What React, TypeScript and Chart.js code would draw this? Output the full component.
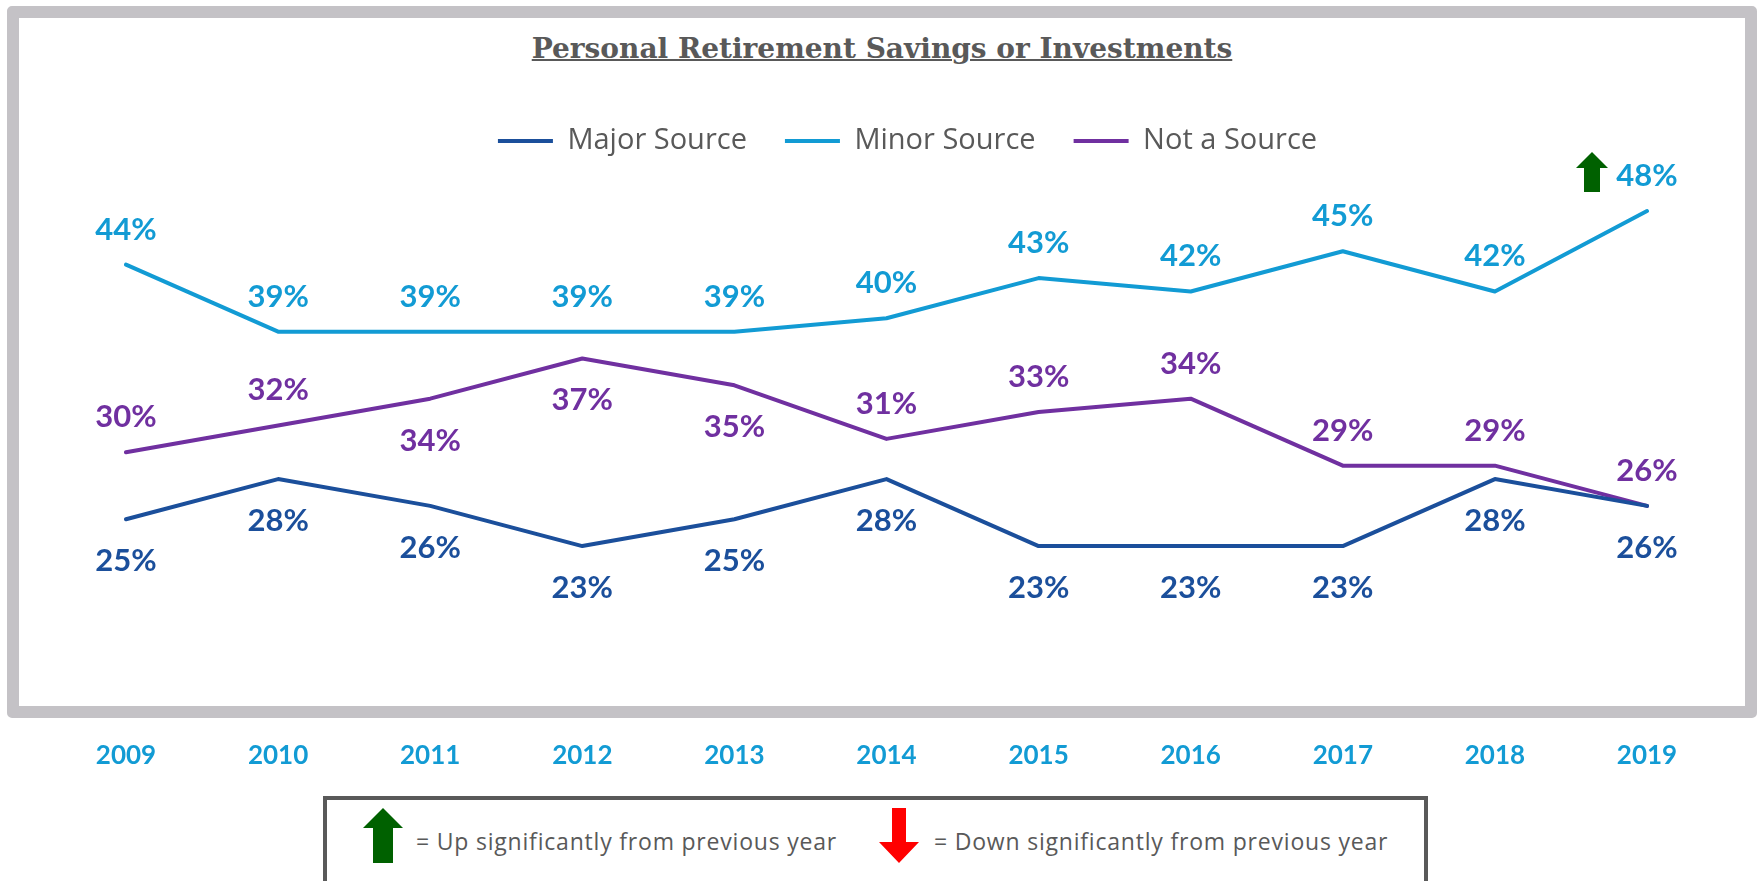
import React, { useEffect, useRef } from "react";
import { Chart, registerables } from "chart.js";

Chart.register(...registerables);

// ---- Data ----
const years = ["2009", "2010", "2011", "2012", "2013", "2014", "2015", "2016", "2017", "2018", "2019"];
const majorSource = [25, 28, 26, 23, 25, 28, 23, 23, 23, 28, 26];
const minorSource = [44, 39, 39, 39, 39, 40, 43, 42, 45, 42, 48];
const notASource = [30, 32, 34, 37, 35, 31, 33, 34, 29, 29, 26];

// label side per point
const majorSides = ["below", "below", "below", "below", "below", "below", "below", "below", "below", "below", "below"];
const minorSides = ["above", "above", "above", "above", "above", "above", "above", "above", "above", "above", "above"];
const notSides = ["above", "above", "below", "below", "below", "above", "above", "above", "above", "above", "above"];

// significance vs previous year: 1 = up, -1 = down, 0 = none
const majorSig = [0, 0, 0, 0, 0, 0, 0, 0, 0, 0, 0];
const minorSig = [0, 0, 0, 0, 0, 0, 0, 0, 0, 0, 1];
const notSig = [0, 0, 0, 0, 0, 0, 0, 0, 0, 0, 0];

const seriesNames = ["Major Source", "Minor Source", "Not a Source"];

const COLORS = {
  major: "#1B4F9B",
  minor: "#129BD4",
  not: "#7030A0",
  text: "#595959",
  green: "#006100",
  red: "#FF0000",
  frame: "#C4C2C6",
};

function drawArrow(ctx: CanvasRenderingContext2D, cx: number, top: number, bottom: number, w: number, shaftW: number, headH: number, up: boolean, color: string) {
  ctx.save();
  ctx.fillStyle = color;
  ctx.beginPath();
  if (up) {
    ctx.moveTo(cx, top);
    ctx.lineTo(cx + w / 2, top + headH);
    ctx.lineTo(cx + shaftW / 2, top + headH);
    ctx.lineTo(cx + shaftW / 2, bottom);
    ctx.lineTo(cx - shaftW / 2, bottom);
    ctx.lineTo(cx - shaftW / 2, top + headH);
    ctx.lineTo(cx - w / 2, top + headH);
  } else {
    ctx.moveTo(cx, bottom);
    ctx.lineTo(cx + w / 2, bottom - headH);
    ctx.lineTo(cx + shaftW / 2, bottom - headH);
    ctx.lineTo(cx + shaftW / 2, top);
    ctx.lineTo(cx - shaftW / 2, top);
    ctx.lineTo(cx - shaftW / 2, bottom - headH);
    ctx.lineTo(cx - w / 2, bottom - headH);
  }
  ctx.closePath();
  ctx.fill();
  ctx.restore();
}

const valueLabels = {
  id: "valueLabels",
  afterDatasetsDraw(chart: any) {
    const ctx: CanvasRenderingContext2D = chart.ctx;
    chart.data.datasets.forEach((ds: any, di: number) => {
      const meta = chart.getDatasetMeta(di);
      meta.data.forEach((pt: any, i: number) => {
        const v = ds.data[i];
        const side = ds.labelSides[i];
        const cy = side === "above" ? pt.y - 36 : pt.y + 41;
        ctx.save();
        ctx.font = "bold 31px Lato";
        ctx.fillStyle = ds.borderColor;
        ctx.textAlign = "center";
        ctx.textBaseline = "alphabetic";
        ctx.fillText(v + "%", pt.x, cy + 11);
        ctx.restore();
        const s = ds.significance[i];
        if (s) {
          drawArrow(ctx, pt.x - 55, cy - 23, cy + 17, 32, 16, 16, s > 0, s > 0 ? COLORS.green : COLORS.red);
        }
      });
    });
  },
};

// nudge the legend block to the right, as in the reference
const legendShift = {
  id: "legendShift",
  afterLayout(chart: any) {
    if (chart.legend) {
      chart.legend.left += 21;
      chart.legend.right += 21;
    }
  },
};

export default function App() {
  const canvasRef = useRef<HTMLCanvasElement | null>(null);

  useEffect(() => {
    document.body.style.margin = "0";
    if (!canvasRef.current) return;
    const chart = new Chart(canvasRef.current, {
      type: "line",
      data: {
        labels: years,
        datasets: [
          {
            label: seriesNames[0],
            data: majorSource,
            borderColor: COLORS.major,
            backgroundColor: COLORS.major,
            borderWidth: 4,
            pointRadius: 0,
            borderCapStyle: "round",
            borderJoinStyle: "round",
            labelSides: majorSides,
            significance: majorSig,
          } as any,
          {
            label: seriesNames[1],
            data: minorSource,
            borderColor: COLORS.minor,
            backgroundColor: COLORS.minor,
            borderWidth: 4,
            pointRadius: 0,
            borderCapStyle: "round",
            borderJoinStyle: "round",
            labelSides: minorSides,
            significance: minorSig,
          } as any,
          {
            label: seriesNames[2],
            data: notASource,
            borderColor: COLORS.not,
            backgroundColor: COLORS.not,
            borderWidth: 4,
            pointRadius: 0,
            borderCapStyle: "round",
            borderJoinStyle: "round",
            labelSides: notSides,
            significance: notSig,
          } as any,
        ],
      },
      options: {
        responsive: false,
        animation: false,
        devicePixelRatio: 1,
        layout: { padding: { top: 88.5, left: 126, right: 112, bottom: 89.5 } },
        plugins: {
          legend: {
            position: "top",
            labels: {
              usePointStyle: true,
              pointStyle: "line",
              pointStyleWidth: 55,
              color: COLORS.text,
              font: { family: "'Open Sans'", size: 29 },
              padding: 38,
            },
          },
          tooltip: { enabled: false },
          title: { display: false },
        },
        scales: {
          x: {
            grid: { display: false, drawTicks: false },
            border: { display: false },
            ticks: {
              color: COLORS.minor,
              font: { family: "Lato", size: 26, weight: "bold" },
              padding: 20,
              maxRotation: 0,
            },
          },
          y: {
            display: false,
            min: 10,
            max: 51.4,
          },
        },
      },
      plugins: [valueLabels, legendShift],
    });
    return () => chart.destroy();
  }, []);

  const legendText: React.CSSProperties = {
    position: "absolute",
    top: 27,
    fontFamily: "'Open Sans'",
    fontSize: 23,
    letterSpacing: 0.8,
    lineHeight: "28px",
    color: COLORS.text,
    whiteSpace: "nowrap",
  };

  return (
    <div style={{ position: "fixed", left: 0, top: 0, width: 1759, height: 881, overflow: "hidden", background: "#fff" }}>
      <div
        style={{
          position: "absolute",
          left: 7,
          top: 6,
          width: 1750,
          height: 712,
          boxSizing: "border-box",
          border: `12px solid ${COLORS.frame}`,
          borderRadius: 5,
          background: "#fff",
        }}
      />
      <div
        style={{
          position: "absolute",
          left: 882,
          top: 35,
          transform: "translateX(-50%)",
          whiteSpace: "nowrap",
          fontFamily: "'DejaVu Serif'",
          fontWeight: "bold",
          fontSize: 28,
          lineHeight: "28px",
          color: COLORS.text,
          textDecoration: "underline",
          textDecorationThickness: 2,
        }}
      >
        Personal Retirement Savings or Investments
      </div>
      <canvas ref={canvasRef} width={1759} height={881} style={{ position: "absolute", left: 0, top: 0, width: 1759, height: 881 }} />
      <div
        style={{
          position: "absolute",
          left: 323,
          top: 796,
          width: 1105,
          height: 110,
          boxSizing: "border-box",
          border: `4px solid ${COLORS.text}`,
          background: "#fff",
        }}
      >
        <svg style={{ position: "absolute", left: 35, top: 8 }} width={42} height={56} viewBox="0 0 42 56">
          <polygon points="21,0 41,20 31,20 31,55 11,55 11,20 1,20" fill={COLORS.green} />
        </svg>
        <div style={{ ...legendText, left: 89 }}>= Up significantly from previous year</div>
        <svg style={{ position: "absolute", left: 551, top: 8 }} width={42} height={56} viewBox="0 0 42 56">
          <polygon points="14,0 28,0 28,34 41,34 21,55 1,34 14,34" fill={COLORS.red} />
        </svg>
        <div style={{ ...legendText, left: 607 }}>= Down significantly from previous year</div>
      </div>
    </div>
  );
}
